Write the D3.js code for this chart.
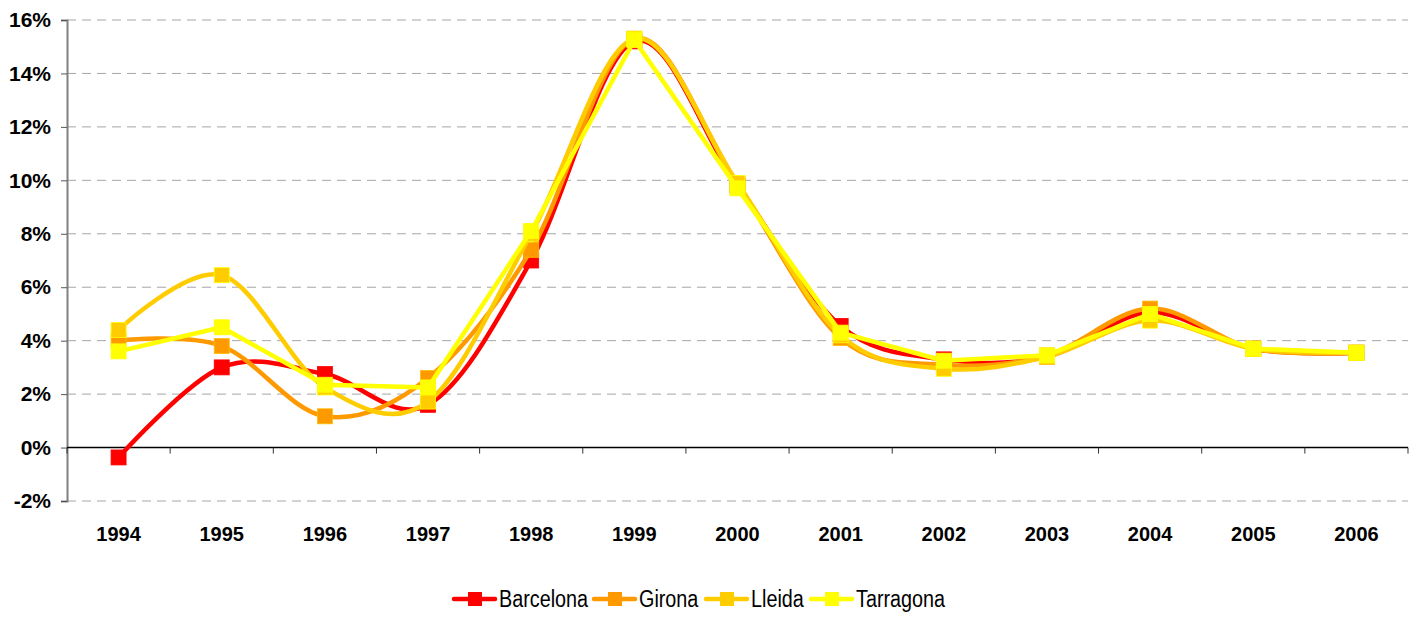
<!DOCTYPE html>
<html>
<head>
<meta charset="utf-8">
<script src="https://cdn.jsdelivr.net/npm/d3@7"></script>
<style>
  body { margin: 0; background: #fff; }
  svg { display: block; font-family: "Liberation Sans", Arial, sans-serif; }
</style>
</head>
<body>
<div id="chart"></div>
<script>
var years = ["1994", "1995", "1996", "1997", "1998", "1999", "2000", "2001", "2002", "2003", "2004", "2005", "2006"];
var yTicks = [-2, 0, 2, 4, 6, 8, 10, 12, 14, 16];
var seriesNames = ["Barcelona", "Girona", "Lleida", "Tarragona"];
var barcelona = [-0.37, 3.0, 2.75, 1.6, 7.0, 15.2, 9.8, 4.55, 3.3, 3.4, 5.05, 3.7, 3.55];
var girona = [4.0, 3.8, 1.17, 2.6, 7.4, 15.3, 9.85, 4.1, 3.1, 3.45, 5.2, 3.7, 3.55];
var lleida = [4.4, 6.45, 2.25, 1.72, 8.0, 15.3, 9.9, 4.2, 2.95, 3.4, 4.75, 3.7, 3.55];
var tarragona = [3.6, 4.5, 2.35, 2.25, 8.1, 15.25, 9.7, 4.3, 3.25, 3.45, 5.0, 3.7, 3.55];

var colors = ["#ff0000", "#ff9900", "#ffcc00", "#ffff00"];
var smooth = [true, true, true, false];
var values = [barcelona, girona, lleida, tarragona];

var width = 1416, height = 619;
var plotLeft = 67, plotRight = 1408, plotTop = 20, plotBottom = 501;

var svg = d3.select("#chart").append("svg")
    .attr("width", width)
    .attr("height", height);

var x = d3.scaleBand().domain(years).range([plotLeft, plotRight]).padding(0);
var y = d3.scaleLinear().domain([-2, 16]).range([plotBottom, plotTop]);
var cx = function (d) { return x(d) + x.bandwidth() / 2; };

// grid lines
svg.append("g").selectAll("line").data(yTicks.filter(function (t) { return t !== 0; }))
    .enter().append("line")
    .attr("x1", plotLeft).attr("x2", plotRight)
    .attr("y1", function (d) { return y(d); })
    .attr("y2", function (d) { return y(d); })
    .attr("stroke", "#a6a6a6")
    .attr("stroke-width", 1)
    .attr("stroke-dasharray", "9,6");

// y axis
var yAxis = d3.axisLeft(y).tickValues(yTicks).tickSize(6).tickPadding(10)
    .tickFormat(function (d) { return d + "%"; });
var ya = svg.append("g").attr("transform", "translate(" + plotLeft + ",0)").call(yAxis);
ya.select(".domain").attr("stroke", "#808080").attr("stroke-width", 2);
ya.selectAll(".tick line").attr("stroke", "#555");
ya.selectAll("text").attr("font-size", 21).attr("font-weight", "bold")
    .attr("fill", "#000").attr("font-family", "Liberation Sans, Arial, sans-serif");

// x axis on 0%
svg.append("line")
    .attr("x1", plotLeft).attr("x2", plotRight)
    .attr("y1", y(0)).attr("y2", y(0))
    .attr("stroke", "#000").attr("stroke-width", 1.5);
var bounds = years.map(function (d) { return x(d); }).concat([plotRight]);
svg.append("g").selectAll("line").data(bounds).enter().append("line")
    .attr("x1", function (d) { return d; }).attr("x2", function (d) { return d; })
    .attr("y1", y(0)).attr("y2", y(0) + 6)
    .attr("stroke", "#333").attr("stroke-width", 1);
svg.append("g").selectAll("text").data(years).enter().append("text")
    .attr("x", cx).attr("y", 541)
    .attr("text-anchor", "middle")
    .attr("font-size", 20).attr("font-weight", "bold")
    .text(function (d) { return d; });

// series
values.forEach(function (vals, i) {
    var line = d3.line()
        .x(function (d, j) { return cx(years[j]); })
        .y(function (d) { return y(d); })
        .curve(smooth[i] ? d3.curveCardinal.tension(0) : d3.curveLinear);
    var g = svg.append("g");
    g.append("path").datum(vals)
        .attr("d", line)
        .attr("fill", "none")
        .attr("stroke", colors[i])
        .attr("stroke-width", 4.5)
        .attr("stroke-linejoin", "round");
    g.selectAll("rect").data(vals).enter().append("rect")
        .attr("x", function (d, j) { return cx(years[j]) - 7.5; })
        .attr("y", function (d) { return y(d) - 7.5; })
        .attr("width", 15).attr("height", 15)
        .attr("fill", colors[i])
        .attr("stroke", d3.color(colors[i]).brighter(0.6))
        .attr("stroke-width", 0.8);
});

// legend
var legendX = [454, 594, 706, 811];
var lg = svg.append("g").selectAll("g").data(seriesNames).enter().append("g")
    .attr("transform", function (d, i) { return "translate(" + legendX[i] + ",599)"; });
lg.append("line").attr("x1", 0).attr("x2", 41).attr("y1", 0).attr("y2", 0)
    .attr("stroke", function (d, i) { return colors[i]; })
    .attr("stroke-width", 4.5).attr("stroke-linecap", "round");
lg.append("rect").attr("x", 14).attr("y", -7).attr("width", 14).attr("height", 14)
    .attr("fill", function (d, i) { return colors[i]; });
lg.append("text")
    .attr("transform", "translate(45,8) scale(0.86,1)")
    .attr("font-size", 23)
    .attr("fill", "#000")
    .text(function (d) { return d; });
</script>
</body>
</html>
